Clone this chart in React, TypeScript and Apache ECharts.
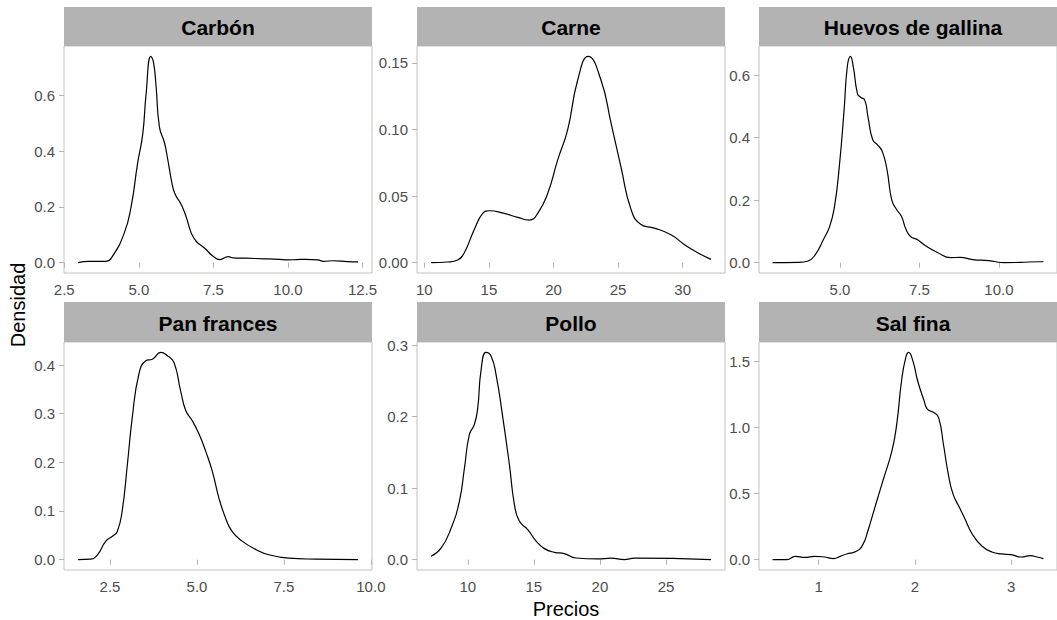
import React, { useEffect, useRef } from "react";
import * as echarts from "echarts";

// ---- Data ----
const panelNames = ["Carbón", "Carne", "Huevos de gallina", "Pan frances", "Pollo", "Sal fina"];

const carbonX = [2.96, 3.33, 3.89, 4.11, 4.51, 4.74, 4.96, 5.13, 5.24, 5.4, 5.49, 5.58, 5.69, 5.86, 5.97, 6.09, 6.2, 6.43, 6.6, 6.76, 6.93, 7.21, 7.49, 7.72, 8.0, 8.17, 8.6, 9.2, 9.7, 10.0, 10.3, 10.6, 11.0, 11.2, 11.5, 12.0, 12.35];
const carbonY = [0, 0.005, 0.005, 0.022, 0.106, 0.2, 0.357, 0.46, 0.6, 0.74, 0.72, 0.63, 0.487, 0.43, 0.37, 0.297, 0.25, 0.207, 0.16, 0.106, 0.076, 0.052, 0.023, 0.011, 0.022, 0.017, 0.016, 0.014, 0.012, 0.01, 0.011, 0.012, 0.01, 0.005, 0.007, 0.004, 0.003];

const carneX = [10.52, 11.81, 12.58, 13.1, 13.87, 14.52, 15.03, 16.19, 17.23, 18.13, 18.78, 19.55, 20.32, 21.1, 21.87, 22.69, 23.68, 24.45, 25.22, 26.0, 26.77, 27.8, 29.09, 30.12, 31.16, 32.19];
const carneY = [0, 0.0005, 0.002, 0.0075, 0.025, 0.037, 0.039, 0.037, 0.034, 0.032, 0.037, 0.052, 0.077, 0.1, 0.137, 0.155, 0.137, 0.105, 0.072, 0.04, 0.0287, 0.026, 0.021, 0.0137, 0.0075, 0.0025];

const huevosX = [2.88, 3.68, 3.98, 4.23, 4.48, 4.68, 4.83, 4.98, 5.13, 5.23, 5.33, 5.42, 5.55, 5.65, 5.78, 5.88, 6.03, 6.18, 6.33, 6.48, 6.63, 6.78, 6.93, 7.08, 7.23, 7.43, 7.68, 8.08, 8.48, 8.78, 9.18, 9.68, 10.18, 10.68, 11.28, 11.4];
const huevosY = [0, 0.001, 0.0045, 0.0265, 0.074, 0.117, 0.18, 0.308, 0.488, 0.626, 0.66, 0.626, 0.541, 0.529, 0.52, 0.467, 0.393, 0.377, 0.356, 0.297, 0.2, 0.17, 0.149, 0.106, 0.083, 0.074, 0.055, 0.032, 0.016, 0.017, 0.01, 0.0064, 0.0, 0.001, 0.003, 0.003];

const panX = [1.58, 1.95, 2.14, 2.38, 2.57, 2.71, 2.85, 3.0, 3.14, 3.33, 3.53, 3.72, 3.96, 4.15, 4.34, 4.53, 4.68, 4.87, 5.06, 5.25, 5.44, 5.63, 5.82, 6.01, 6.3, 6.69, 7.07, 7.64, 8.41, 9.63];
const panY = [0, 0.001, 0.01, 0.038, 0.048, 0.058, 0.1, 0.196, 0.292, 0.381, 0.409, 0.412, 0.426, 0.419, 0.405, 0.347, 0.306, 0.285, 0.258, 0.223, 0.182, 0.127, 0.086, 0.058, 0.038, 0.021, 0.01, 0.003, 0.001, 0];

const polloX = [7.22, 7.98, 8.74, 9.37, 9.75, 10.12, 10.5, 10.76, 11.0, 11.38, 11.76, 12.14, 12.65, 13.15, 13.53, 13.9, 14.54, 15.17, 15.8, 16.55, 17.31, 18.19, 19.83, 20.84, 21.85, 22.6, 28.4];
const polloY = [0.0047, 0.016, 0.044, 0.082, 0.128, 0.175, 0.189, 0.213, 0.264, 0.29, 0.285, 0.259, 0.199, 0.133, 0.077, 0.054, 0.042, 0.026, 0.0154, 0.0102, 0.0084, 0.0023, 0.001, 0.002, 0, 0.002, 0];

const salX = [0.521, 0.671, 0.756, 0.856, 0.957, 1.057, 1.158, 1.224, 1.291, 1.392, 1.459, 1.51, 1.593, 1.677, 1.761, 1.811, 1.861, 1.905, 1.935, 1.978, 2.028, 2.095, 2.129, 2.196, 2.246, 2.296, 2.347, 2.397, 2.464, 2.514, 2.598, 2.698, 2.799, 2.899, 3.0, 3.1, 3.2, 3.268, 3.335];
const salY = [0, 0, 0.025, 0.017, 0.025, 0.02, 0.008, 0.025, 0.043, 0.063, 0.114, 0.215, 0.418, 0.62, 0.823, 1.026, 1.355, 1.532, 1.57, 1.507, 1.355, 1.203, 1.14, 1.114, 1.076, 0.874, 0.646, 0.494, 0.393, 0.317, 0.19, 0.101, 0.058, 0.043, 0.038, 0.02, 0.03, 0.02, 0.008];

const carbonXTicks = [2.5, 5, 7.5, 10, 12.5];
const carbonYTicks = [0, 0.2, 0.4, 0.6];
const carneXTicks = [10, 15, 20, 25, 30];
const carneYTicks = [0, 0.05, 0.1, 0.15];
const huevosXTicks = [5, 7.5, 10];
const huevosYTicks = [0, 0.2, 0.4, 0.6];
const panXTicks = [2.5, 5, 7.5, 10];
const panYTicks = [0, 0.1, 0.2, 0.3, 0.4];
const polloXTicks = [10, 15, 20, 25];
const polloYTicks = [0, 0.1, 0.2, 0.3];
const salXTicks = [1, 2, 3];
const salYTicks = [0, 0.5, 1, 1.5];

const xTitle = "Precios";
const yTitle = "Densidad";

const panels = [
  { x: carbonX, y: carbonY, xt: carbonXTicks, yt: carbonYTicks, xd: 1, yd: 1 },
  { x: carneX, y: carneY, xt: carneXTicks, yt: carneYTicks, xd: 0, yd: 2 },
  { x: huevosX, y: huevosY, xt: huevosXTicks, yt: huevosYTicks, xd: 1, yd: 1 },
  { x: panX, y: panY, xt: panXTicks, yt: panYTicks, xd: 1, yd: 1 },
  { x: polloX, y: polloY, xt: polloXTicks, yt: polloYTicks, xd: 0, yd: 1 },
  { x: salX, y: salY, xt: salXTicks, yt: salYTicks, xd: 0, yd: 1 },
];

// ---- Layout ----
const colLeft = [64, 417, 759];
const colW = 308;
const stripTop = [7, 302];
const stripH = [39, 40];
const plotTop = [46, 342];
const plotH = [227, 228];

const FONT = "'Liberation Sans', Arial, sans-serif";

export default function App() {
  const ref = useRef<HTMLDivElement>(null);
  useEffect(() => {
    if (!ref.current) return;
    const chart = echarts.init(ref.current, null, { renderer: "svg" });

    const grids: any[] = [];
    const xAxes: any[] = [];
    const yAxes: any[] = [];
    const series: any[] = [];
    const graphics: any[] = [];

    panels.forEach((p, i) => {
      const col = i % 3;
      const row = Math.floor(i / 3);
      const xmin0 = Math.min(...p.x), xmax0 = Math.max(...p.x);
      const ymin0 = Math.min(0, ...p.y), ymax0 = Math.max(...p.y);
      const xr = xmax0 - xmin0, yr = ymax0 - ymin0;
      grids.push({
        left: colLeft[col],
        top: plotTop[row],
        width: colW,
        height: plotH[row],
        show: true,
        borderColor: "#c2c2c2",
        borderWidth: 1,
        backgroundColor: "#ffffff",
        containLabel: false,
      });
      xAxes.push({
        type: "value",
        gridIndex: i,
        min: xmin0 - 0.05 * xr,
        max: xmax0 + 0.05 * xr,
        axisLine: { show: false },
        splitLine: { show: false },
        axisTick: { show: true, customValues: p.xt, length: 5, lineStyle: { color: "#b3b3b3", width: 1 } },
        axisLabel: {
          customValues: p.xt,
          formatter: (v: number) => v.toFixed(p.xd),
          color: "#4d4d4d",
          fontSize: 15,
          fontFamily: FONT,
          margin: 9,
        },
      });
      yAxes.push({
        type: "value",
        gridIndex: i,
        min: ymin0 - 0.05 * yr,
        max: ymax0 + 0.05 * yr,
        axisLine: { show: false },
        splitLine: { show: false },
        axisTick: { show: true, customValues: p.yt, length: 5, lineStyle: { color: "#b3b3b3", width: 1 } },
        axisLabel: {
          customValues: p.yt,
          formatter: (v: number) => v.toFixed(p.yd),
          color: "#4d4d4d",
          fontSize: 15,
          fontFamily: FONT,
          margin: 9,
        },
      });
      series.push({
        type: "line",
        xAxisIndex: i,
        yAxisIndex: i,
        data: p.x.map((xv, k) => [xv, p.y[k]]),
        showSymbol: false,
        smooth: 0.5,
        lineStyle: { color: "#000000", width: 1.2 },
        silent: true,
      });
      graphics.push({
        type: "rect",
        shape: { x: colLeft[col], y: stripTop[row], width: colW, height: stripH[row] },
        style: { fill: "#b3b3b3" },
      });
      graphics.push({
        type: "text",
        x: colLeft[col] + colW / 2,
        y: stripTop[row] + stripH[row] / 2 + 1,
        style: {
          text: panelNames[i],
          fill: "#000000",
          font: `bold 21px ${FONT}`,
          align: "center",
          verticalAlign: "middle",
        },
      });
    });

    graphics.push({
      type: "text",
      x: 566,
      y: 609,
      style: { text: xTitle, fill: "#000000", font: `20px ${FONT}`, align: "center", verticalAlign: "middle" },
    });
    graphics.push({
      type: "text",
      x: 18,
      y: 305,
      rotation: Math.PI / 2,
      style: { text: yTitle, fill: "#000000", font: `20px ${FONT}`, align: "center", verticalAlign: "middle" },
    });

    chart.setOption({
      animation: false,
      backgroundColor: "#ffffff",
      grid: grids,
      xAxis: xAxes,
      yAxis: yAxes,
      series,
      graphic: graphics,
    });
    return () => chart.dispose();
  }, []);
  return <div ref={ref} style={{ position: "absolute", left: 0, top: 0, width: 1057, height: 620 }} />;
}
